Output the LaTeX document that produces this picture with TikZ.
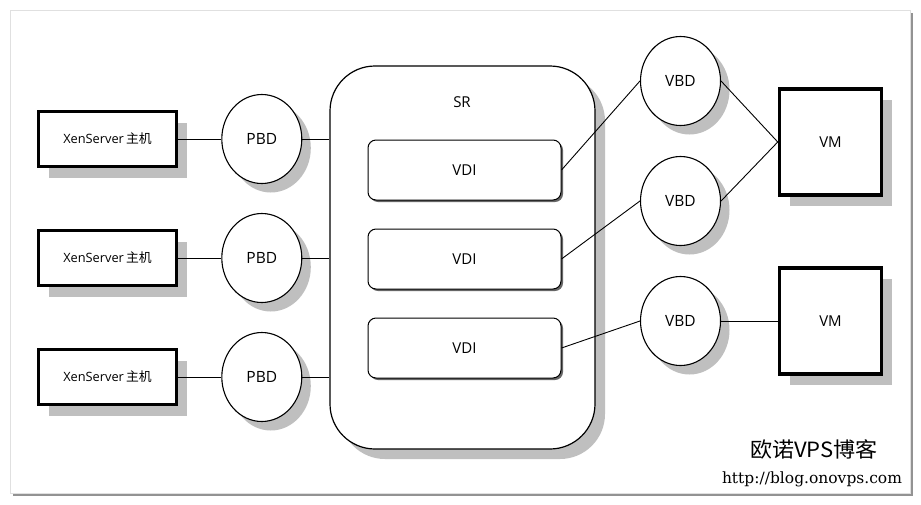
\documentclass[tikz,border=0pt]{standalone}
\usepackage{fontspec}
\setmainfont{Open Sans}
\newfontfamily\cjk{Noto Sans CJK SC}
\newfontfamily\urlfont{DejaVu Serif}
\usetikzlibrary{shapes.geometric,positioning,shadows}

\begin{document}
\begin{tikzpicture}[x=1pt, y=-1pt,
    hostbox/.style={rectangle, draw, line width=3.5pt, fill=white, minimum width=138pt, minimum height=55pt, font=\fontsize{12.8}{14}\selectfont, drop shadow={shadow xshift=10pt, shadow yshift=-11pt, fill=black!25, opacity=1}},
    vmbox/.style={hostbox, minimum width=102pt, minimum height=106pt, font=\fontsize{15}{17}\selectfont},
    disk/.style={ellipse, draw, line width=1.1pt, fill=white, minimum width=80pt, minimum height=89pt, inner sep=0pt, font=\fontsize{15.5}{17}\selectfont, drop shadow={shadow xshift=9pt, shadow yshift=-9pt, fill=black!25, opacity=1}},
    vdibox/.style={rectangle, rounded corners=8pt, draw, line width=1pt, fill=white, minimum width=193pt, minimum height=60pt, font=\fontsize{15}{17}\selectfont, drop shadow={shadow xshift=2pt, shadow yshift=-2pt, fill=black!60, opacity=1}},
    link/.style={line width=0.9pt}]
    % Frame
    \fill[white] (0,0) rectangle (921,504);
    \useasboundingbox (0,0) rectangle (921,504);
    \path[draw=black!12, fill=white, drop shadow={shadow xshift=2.5pt, shadow yshift=-2.5pt, fill=black!70, opacity=0.6}] (10,10) rectangle (910,493);

    % Storage repository
    \node (sr) [rectangle, draw, line width=1.2pt, fill=white, rounded corners=45pt, minimum width=265pt, minimum height=383pt, drop shadow={shadow xshift=10pt, shadow yshift=-10pt, fill=black!25, opacity=1}] at (462.5,257.5) {};
    \node (srtitle) [font=\fontsize{15}{17}\selectfont] at (462,102) {SR};
    \node (vdi1) [vdibox] at (464.5,170) {VDI};
    \node (vdi2) [vdibox, below=28pt of vdi1] {VDI};
    \node (vdi3) [vdibox, below=28pt of vdi2] {VDI};

    % Hosts and PBDs
    \node (h1) [hostbox] at (107.5,139) {XenServer\,{\cjk 主机}};
    \node (h2) [hostbox] at (107.5,258) {XenServer\,{\cjk 主机}};
    \node (h3) [hostbox] at (107.5,377) {XenServer\,{\cjk 主机}};
    \node (p1) [disk, right=43pt of h1] {PBD};
    \node (p2) [disk, right=43pt of h2] {PBD};
    \node (p3) [disk, right=43pt of h3] {PBD};

    % VBDs and VMs
    \node (b1) [disk] at (680.5,81) {VBD};
    \node (b2) [disk] at (680.5,201) {VBD};
    \node (b3) [disk] at (680.5,321) {VBD};
    \node (vm1) [vmbox] at (830.5,142) {VM};
    \node (vm2) [vmbox] at (830.5,321) {VM};

    % Links
    \draw [link] (h1) -- (p1);
    \draw [link] (h2) -- (p2);
    \draw [link] (h3) -- (p3);
    \draw [link] (p1.east) -- (p1.east -| sr.west);
    \draw [link] (p2.east) -- (p2.east -| sr.west);
    \draw [link] (p3.east) -- (p3.east -| sr.west);
    \draw [link] (vdi1.east) -- (b1.west);
    \draw [link] (vdi2.east) -- (b2.west);
    \draw [link] (vdi3.east) -- (b3.west);
    \draw [link] (b1.east) -- (vm1.west);
    \draw [link] (b2.east) -- (vm1.west);
    \draw [link] (b3.east) -- (vm2.west);

    % Watermark
    \node (wmtitle) [font=\cjk\fontsize{21}{22}\selectfont, xscale=1.05] at (814,449) {欧诺VPS博客};
    \node (wmurl) [font=\urlfont\fontsize{15.5}{17}\selectfont] at (812,479) {http://blog.onovps.com};
\end{tikzpicture}
\end{document}
